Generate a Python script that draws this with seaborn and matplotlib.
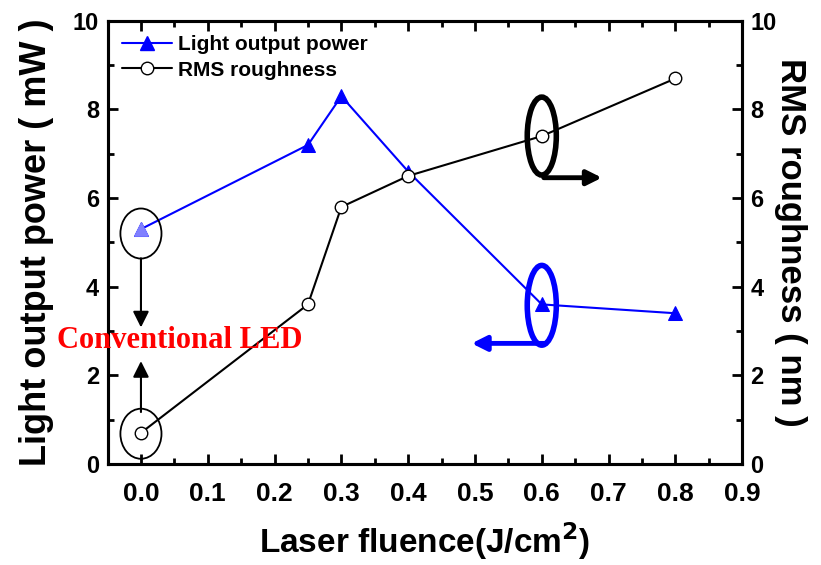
import matplotlib
matplotlib.use("Agg")
import matplotlib.pyplot as plt
from matplotlib.patches import Ellipse, FancyArrowPatch
from matplotlib.ticker import MultipleLocator
from matplotlib.lines import Line2D
import seaborn as sns
import pandas as pd

# Measured data
fluence = [0.0, 0.25, 0.3, 0.4, 0.6, 0.8]
light_power = [5.3, 7.2, 8.3, 6.6, 3.6, 3.4]      # mW
rms_roughness = [0.7, 3.6, 5.8, 6.5, 7.4, 8.7]    # nm
x_ticks = [0.0, 0.1, 0.2, 0.3, 0.4, 0.5, 0.6, 0.7, 0.8, 0.9]
y_ticks = [0, 2, 4, 6, 8, 10]

df = pd.DataFrame({"fluence": fluence, "power": light_power, "rms": rms_roughness})

sns.set_style("ticks")
plt.rcParams["font.family"] = ["Liberation Sans", "DejaVu Sans"]
plt.rcParams["font.weight"] = "bold"
for key in ("text.color", "axes.labelcolor", "xtick.color", "ytick.color", "axes.edgecolor"):
    plt.rcParams[key] = "black"

fig = plt.figure(figsize=(8.21, 5.65), dpi=100)
ax = fig.add_axes([0.131, 0.179, 0.773, 0.784])
ax2 = ax.twinx()

BLUE = "#0000ff"
sns.lineplot(data=df, x="fluence", y="power", ax=ax, color=BLUE, marker="^",
             markersize=10, markeredgecolor=BLUE, linewidth=1.5, legend=False)
# reference (conventional LED) point drawn in a lighter tint
sns.scatterplot(x=fluence[:1], y=light_power[:1], ax=ax, color="#8080ff",
                marker="^", s=95, edgecolor="#8080ff", zorder=5, legend=False)
sns.lineplot(data=df, x="fluence", y="rms", ax=ax2, color="black", marker="o",
             markersize=9, markerfacecolor="white", markeredgecolor="black",
             markeredgewidth=1.0, linewidth=1.5, legend=False)

for a in (ax, ax2):
    a.set_xlim(-0.05, 0.9)
    a.set_ylim(0, 10)
    for s in a.spines.values():
        s.set_linewidth(2.2)
        s.set_visible(True)
        s.set_color("black")

ax.set_xticks(x_ticks)
ax.set_xticklabels([f"{t:.1f}" for t in x_ticks])
ax.xaxis.set_minor_locator(MultipleLocator(0.05))
ax.set_yticks(y_ticks)
ax.yaxis.set_minor_locator(MultipleLocator(1))
ax2.set_yticks(y_ticks)
ax2.yaxis.set_minor_locator(MultipleLocator(1))

ax.tick_params(axis="both", which="both", direction="in", width=2, labelsize=17, colors="black")
ax.tick_params(axis="x", which="major", pad=13)
ax.tick_params(axis="y", which="major", pad=6)
ax.tick_params(axis="x", which="both", top=True)
ax.tick_params(axis="y", which="both", right=False)
ax.tick_params(which="major", length=7)
ax.tick_params(which="minor", length=4)
ax2.tick_params(axis="y", which="both", direction="in", width=2, labelsize=17, pad=6, colors="black")
ax2.tick_params(which="major", length=7)
ax2.tick_params(which="minor", length=4)
for lab in ax.get_xticklabels():
    lab.set_fontweight("bold")
    lab.set_family(["Liberation Sans Narrow", "Liberation Sans", "DejaVu Sans"])
    lab.set_fontsize(19)
for lab in ax.get_yticklabels() + ax2.get_yticklabels():
    lab.set_fontweight("bold")

ax.set_xlabel("Laser fluence(J/cm$^\\mathbf{2}$)", fontsize=24, fontweight="bold", labelpad=10)
ax.set_ylabel("Light output power ( mW )", fontsize=26, fontweight="bold", labelpad=14)
ax2.set_ylabel("RMS roughness ( nm )", fontsize=25, fontweight="bold", rotation=270, labelpad=22)

# Legend
handles = [
    Line2D([], [], color=BLUE, marker="^", markersize=10, markeredgecolor=BLUE, linewidth=1.5),
    Line2D([], [], color="black", marker="o", markersize=9, markerfacecolor="white",
           markeredgecolor="black", markeredgewidth=1.0, linewidth=1.5),
]
ax2.legend(handles, ["Light output power", "RMS roughness"], loc="upper left",
           bbox_to_anchor=(0.0, 1.0), frameon=False, prop={"weight": "bold", "size": 15},
           handlelength=2.4, handletextpad=0.3, labelspacing=0.3, borderaxespad=0.3)

# Annotations
ax2.add_patch(Ellipse((0.0, 5.2), 0.0615, 1.13, fill=False, edgecolor="black", lw=1.3, zorder=6))
ax2.add_patch(Ellipse((0.0, 0.68), 0.0615, 1.13, fill=False, edgecolor="black", lw=1.3, zorder=6))
ax2.add_patch(FancyArrowPatch((0.0, 4.64), (0.0, 3.08), arrowstyle="-|>", mutation_scale=24,
                              color="black", lw=1.5, shrinkA=0, shrinkB=0, zorder=6))
ax2.add_patch(FancyArrowPatch((0.0, 1.17), (0.0, 2.32), arrowstyle="-|>", mutation_scale=24,
                              color="black", lw=1.5, shrinkA=0, shrinkB=0, zorder=6))
ax2.text(0.058, 2.79, "Conventional LED", color="red", fontsize=22, fontweight="bold",
         family=["Liberation Serif", "DejaVu Serif"], ha="center", va="center", zorder=7)

ax2.add_patch(Ellipse((0.6, 7.4), 0.0435, 1.76, fill=False, edgecolor="black", lw=4, zorder=6))
ax2.add_patch(FancyArrowPatch((0.603, 6.46), (0.69, 6.46), arrowstyle="-|>", mutation_scale=22,
                              color="black", lw=3.5, shrinkA=0, shrinkB=0, zorder=6))
ax2.add_patch(Ellipse((0.6, 3.58), 0.0435, 1.8, fill=False, edgecolor=BLUE, lw=4, zorder=6))
ax2.add_patch(FancyArrowPatch((0.605, 2.72), (0.495, 2.72), arrowstyle="-|>", mutation_scale=22,
                              color=BLUE, lw=3.5, shrinkA=0, shrinkB=0, zorder=6))

fig.savefig("out.png", dpi=100)
